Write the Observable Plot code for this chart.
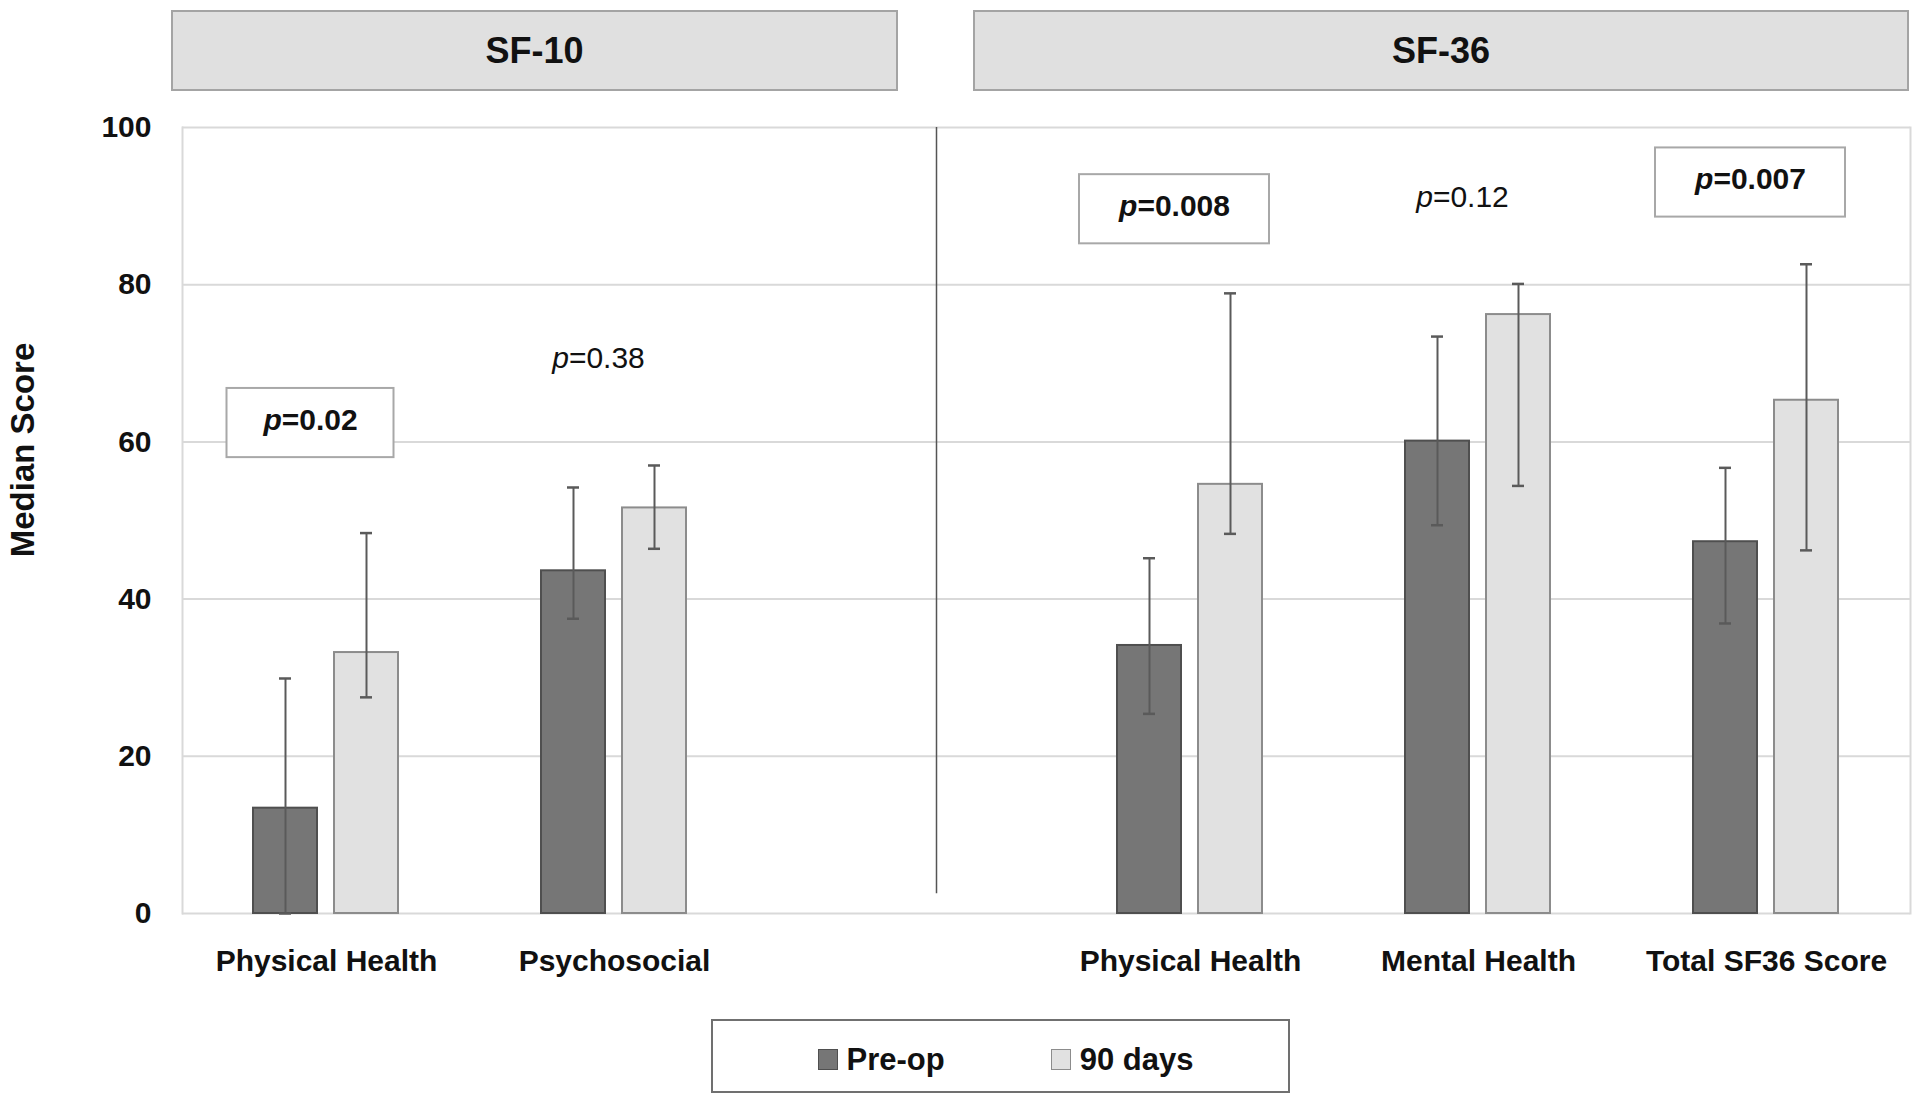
<!DOCTYPE html>
<html>
<head>
<meta charset="utf-8">
<script src="https://cdn.jsdelivr.net/npm/d3@7"></script>
<script src="https://cdn.jsdelivr.net/npm/@observablehq/plot@0.6"></script>
<style>
  body { margin: 0; background: #fff; font-family: "Liberation Sans", Arial, sans-serif; color: #111; }
  #wrap { position: relative; width: 1920px; height: 1105px; }
  .strip { position: absolute; top: 10px; height: 81px; box-sizing: border-box; background: #e0e0e0;
           border: 2px solid #a4a4a4; display: flex; align-items: center; justify-content: center;
           font-weight: bold; font-size: 36px; color: #111; }
  #ytitle { position: absolute; left: 23px; top: 450px; transform: translate(-50%, -50%) rotate(-90deg);
            white-space: nowrap; font-weight: bold; font-size: 33px; color: #111; }
  #chart svg { display: block; }
  #legend { margin-left: 711px; margin-top: 14px; width: 579px; height: 74px; box-sizing: border-box;
            border: 2px solid #707070; display: flex; align-items: center; justify-content: center; gap: 106px;
            padding-left: 10px; padding-top: 7px; }
  .item { display: flex; align-items: center; gap: 9px; font-weight: bold; font-size: 31px; }
  .sw { width: 18px; height: 19px; border: 1.5px solid; }
</style>
</head>
<body>
<div id="wrap">
  <div id="chart"></div>
  <div id="legend"></div>
  <div id="ytitle">Median Score</div>
</div>
<script>
// ---- data ----
const categoryIds = ["sf10-physical", "sf10-psychosocial", "spacer", "sf36-physical", "sf36-mental", "sf36-total"];
const categoryLabels = ["Physical Health", "Psychosocial", "", "Physical Health", "Mental Health", "Total SF36 Score"];
const panelNames = ["SF-10", "SF-36"];
const series = ["Pre-op", "90 days"];

const preopMedian = [13.4, 43.6, null, 34.1, 60.1, 47.3];
const preopLow    = [0.0, 37.5, null, 25.4, 49.4, 36.9];
const preopHigh   = [29.9, 54.2, null, 45.2, 73.4, 56.7];

const day90Median = [33.2, 51.6, null, 54.6, 76.2, 65.3];
const day90Low    = [27.5, 46.4, null, 48.3, 54.4, 46.2];
const day90High   = [48.4, 57.0, null, 78.9, 80.1, 82.6];

const pValues      = ["0.02", "0.38", null, "0.008", "0.12", "0.007"];
const pSignificant = [true, false, null, true, false, true];
const pLabelY      = [62.4, 70.2, null, 89.6, 90.7, 93.0];

const yTicks = [0, 20, 40, 60, 80, 100];

// ---- tables built from the arrays ----
const rows = [];
categoryIds.forEach((id, i) => {
  if (preopMedian[i] != null) rows.push({cat: id, series: "Pre-op", value: preopMedian[i], low: preopLow[i], high: preopHigh[i]});
  if (day90Median[i] != null) rows.push({cat: id, series: "90 days", value: day90Median[i], low: day90Low[i], high: day90High[i]});
});
const gridRows = categoryIds.flatMap(id => yTicks.map(v => ({cat: id, v})));
const pRows = categoryIds.map((id, i) => ({cat: id, label: pValues[i] == null ? null : "p=" + pValues[i], sig: pSignificant[i], y: pLabelY[i]}))
  .filter(d => d.label);
const labelOf = Object.fromEntries(categoryIds.map((id, i) => [id, categoryLabels[i]]));

const colors = {"Pre-op": {fill: "#767676", stroke: "#4f4f4f"}, "90 days": {fill: "#e1e1e1", stroke: "#8c8c8c"}};
const errColor = "#5a5a5a";
const noteShift = -16;

const boxMarks = pRows.filter(d => d.sig).map(d => {
  const w = 23 * d.label.length + 29;
  const inset = (288 - w) / 2;
  return Plot.rect([d], {fx: "cat", y1: r => r.y - 4.4, y2: r => r.y + 4.4, insetLeft: inset, insetRight: inset, dx: noteShift,
    fill: "white", stroke: "#a8a8a8", strokeWidth: 2});
});

const chart = Plot.plot({
  width: 1920, height: 1005,
  marginTop: 127, marginBottom: 92, marginLeft: 181, marginRight: 10,
  style: {fontFamily: "'Liberation Sans', Arial, sans-serif", fontSize: "30px", color: "#111", background: "transparent", overflow: "visible"},
  fx: {domain: categoryIds, padding: 0, label: null},
  x: {domain: series, paddingInner: 0.207, paddingOuter: 0.86, axis: null},
  y: {domain: [0, 100]},
  marks: [
    Plot.ruleY(gridRows, {fx: "cat", y: "v", stroke: "#d9d9d9", strokeWidth: 2}),
    Plot.frame({anchor: "left", facetAnchor: "left", stroke: "#d9d9d9", strokeWidth: 2}),
    Plot.frame({anchor: "right", facetAnchor: "right", stroke: "#d9d9d9", strokeWidth: 2}),
    Plot.ruleX(["spacer"], {fx: d => d, x: null, y1: 2.5, y2: 100, dx: 34, stroke: "#555", strokeWidth: 1.5}),
    ...series.map(s => Plot.barY(rows.filter(d => d.series === s), {fx: "cat", x: "series", y: "value",
      fill: colors[s].fill, stroke: colors[s].stroke, strokeWidth: 2})),
    Plot.ruleX(rows, {fx: "cat", x: "series", y1: "low", y2: "high", stroke: errColor, strokeWidth: 2}),
    Plot.tickY(rows, {fx: "cat", x: "series", y: "high", stroke: errColor, strokeWidth: 2.5, insetLeft: 26, insetRight: 26}),
    Plot.tickY(rows, {fx: "cat", x: "series", y: "low", stroke: errColor, strokeWidth: 2.5, insetLeft: 26, insetRight: 26}),
    ...boxMarks,
    Plot.text(pRows.filter(d => d.sig), {fx: "cat", y: "y", text: "label", fontWeight: "bold", fontSize: 30, fill: "#111", dx: noteShift, dy: -3}),
    Plot.text(pRows.filter(d => !d.sig), {fx: "cat", y: "y", text: "label", fontSize: 30, fill: "#111", dx: noteShift, dy: -3}),
    Plot.axisY({ticks: yTicks, tickSize: 0, tickPadding: 31, fontWeight: "bold", fontSize: 30, label: null}),
    Plot.axisFx({anchor: "bottom", tickSize: 0, tickPadding: 36, tickFormat: id => labelOf[id], fontWeight: "bold", fontSize: 30, label: null})
  ]
});

// italic "p" in the p-value labels
chart.querySelectorAll("text").forEach(t => {
  const s = t.textContent;
  if (/^p=/.test(s) && t.children.length === 0) {
    t.textContent = "";
    const a = document.createElementNS("http://www.w3.org/2000/svg", "tspan");
    a.setAttribute("font-style", "italic");
    a.textContent = "p";
    t.appendChild(a);
    t.appendChild(document.createTextNode(s.slice(1)));
  }
});
document.getElementById("chart").appendChild(chart);

// panel strips
const wrap = document.getElementById("wrap");
const stripBoxes = [[171, 727], [973, 936]];
panelNames.forEach((name, i) => {
  const d = document.createElement("div");
  d.className = "strip";
  d.style.left = stripBoxes[i][0] + "px";
  d.style.width = stripBoxes[i][1] + "px";
  d.textContent = name;
  wrap.appendChild(d);
});

// legend
const legend = document.getElementById("legend");
series.forEach(s => {
  const it = document.createElement("div");
  it.className = "item";
  const sw = document.createElement("span");
  sw.className = "sw";
  sw.style.background = colors[s].fill;
  sw.style.borderColor = colors[s].stroke;
  it.appendChild(sw);
  it.appendChild(document.createTextNode(s));
  legend.appendChild(it);
});
</script>
</body>
</html>
